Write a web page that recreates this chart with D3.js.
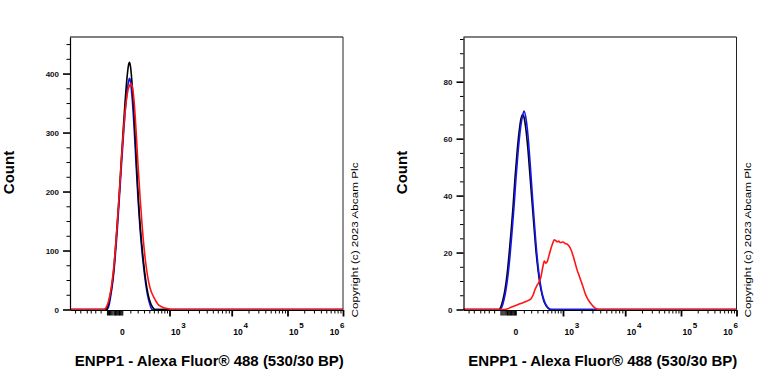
<!DOCTYPE html>
<html><head><meta charset="utf-8">
<script src="https://cdn.jsdelivr.net/npm/d3@7"></script>
<style>
body{margin:0;background:#fff}
svg{display:block}
text{font-family:"Liberation Sans",Arial,Helvetica,sans-serif}
</style>
</head><body>
<svg id="c" width="768" height="384"></svg>
<script>
// ---------------- data ----------------
const xTitle = "ENPP1 - Alexa Fluor\u00ae 488 (530/30 BP)";
const yTitle = "Count";
const copyright = "Copyright (c) 2023 Abcam Plc";
const xZeroLabel = "0";
const xMajorTicks = [1e3, 1e4, 1e5, 1e6];
const xMajorExps = ["3", "4", "5", "6"];
const xMinorTicks = [-1000, -800, -600, -500, -400, -300,
  100, 200, 300, 400, 500, 600, 700, 800, 900,
  2e3, 3e3, 4e3, 5e3, 6e3, 7e3, 8e3, 9e3,
  2e4, 3e4, 4e4, 5e4, 6e4, 7e4, 8e4, 9e4,
  2e5, 3e5, 4e5, 5e5, 6e5, 7e5, 8e5, 9e5];
const xZeroClusterTicks = [-200, -185, -170, -155, -140, -125, -110, -100,
  -90, -80, -70, -60, -50, -40, -30, -20, -10, 0];
const xDomain = [-1240, 1e6];

const leftYMajor = [0, 100, 200, 300, 400];
const leftYMinor = [25, 50, 75, 125, 150, 175, 225, 250, 275, 325, 350, 375, 425, 450];
const leftYMax = 462;
const rightYMajor = [0, 20, 40, 60, 80];
const rightYMinor = [5, 10, 15, 25, 30, 35, 45, 50, 55, 65, 70, 75, 85, 90, 95];
const rightYMax = 95.7;

// Left panel histograms (fluorescence value, count)
const leftBlackX = [-214, -184, -156, -129, -103, -90, -65, -40, -16, 9, 33, 58, 76, 89, 102, 121, 148, 176, 197, 220, 251, 284, 319, 355, 394, 436, 479, 526];
const leftBlackY = [0, 6, 22, 42, 72, 95, 140, 190, 245, 300, 350, 393, 414, 419, 412, 385, 330, 265, 215, 170, 125, 88, 58, 35, 19, 9, 3, 0];
const leftBlueX = [-200, -170, -145, -118, -92, -66, -41, -16, 9, 33, 58, 76, 89, 102, 121, 148, 176, 205, 235, 267, 301, 336, 375, 414, 457];
const leftBlueY = [0, 7, 24, 48, 82, 126, 178, 232, 285, 332, 368, 386, 392, 386, 362, 312, 248, 188, 138, 98, 66, 40, 20, 8, 0];
const leftRedX = [-244, -214, -184, -156, -129, -103, -78, -53, -28, -4, 21, 45, 70, 95, 108, 121, 148, 176, 205, 235, 267, 301, 336, 375, 414, 457, 503, 551, 604, 661, 756, 862, 1019, 1142];
const leftRedY = [0, 3, 11, 25, 46, 76, 115, 162, 215, 268, 315, 350, 372, 381, 383, 380, 355, 305, 245, 192, 145, 105, 75, 52, 37, 27, 20, 14, 9, 6, 3.5, 2, 0.5, 0];

// Right panel histograms
const rightBlackX = [-221, -192, -163, -136, -110, -84, -59, -34, -10, 15, 39, 64, 85, 102, 128, 155, 183, 212, 243, 275, 309, 344, 382, 421, 463, 507, 580];
const rightBlackY = [0, 1, 3.5, 7, 12, 19, 27, 36, 46, 55, 62, 67, 68.5, 67.5, 63, 56, 47, 38, 29, 20.5, 14, 9, 5.5, 3, 1.5, 0.6, 0];
const rightBlueX = [-206, -177, -149, -123, -97, -71, -47, -22, 2, 27, 51, 76, 102, 128, 155, 183, 212, 243, 275, 309, 344, 382, 421, 463, 507, 605];
const rightBlueY = [0, 1, 3.5, 7, 12, 19, 27, 36, 46, 55, 62, 67, 69.7, 67, 61, 52, 42, 32, 23, 15.5, 10, 6, 3.5, 1.8, 0.8, 0];
const rightRedX = [-136, -97, -59, -22, 15, 51, 89, 128, 169, 197, 227, 259, 292, 326, 363, 401, 431, 463, 496, 531, 580, 632, 688, 732, 780, 831, 884, 1000, 1079, 1165, 1256, 1354, 1460, 1573, 1695, 1826, 1967, 2118, 2280, 2454, 2644, 2847, 3066, 3300, 3553, 3966];
const rightRedY = [0, 0.3, 0.8, 1.2, 1.6, 2, 2.4, 2.8, 3.3, 3.8, 5, 7, 8.5, 9.5, 11.5, 15, 17, 16.3, 16.8, 18.5, 21, 23, 24.5, 24.2, 23.8, 24, 23.5, 23.7, 23.2, 23, 22.3, 21, 19, 16.5, 14, 12, 10, 8, 5.8, 4.2, 3, 2, 1.2, 0.6, 0.2, 0];

const seriesColors = {black: "#000000", blue: "#1515f0", red: "#ff1414"};

// ---------------- drawing ----------------
const svg = d3.select("#c");
const FONT = '"Liberation Sans",Arial,Helvetica,sans-serif';
const W = 273;            // panel width
const yTop = 37, yBot = 309.5;

// logicle-like transform (arcsinh), then piecewise-linear display scale
const T = v => Math.asinh(v / 300);
const xLin = d3.scaleLinear()
  .domain([T(xDomain[0]), T(0), T(1e3), T(1e4), T(1e5), T(1e6)])
  .range([0, 52.3, 99.5, 161.7, 217.5, 273]);

function zip(xs, ys) {
  const pts = xs.map((x, i) => [x, ys[i]]);
  return [[xDomain[0], 0], ...pts, [xDomain[1], 0]];
}

function panel(x0, yMax, yMajor, yMinor, series) {
  const g = svg.append("g").attr("transform", `translate(${x0},0)`);
  const y = d3.scaleLinear().domain([0, yMax]).range([yBot, yTop]);

  // frame: top and right
  g.append("line").attr("x1", 0).attr("x2", W).attr("y1", yTop).attr("y2", yTop)
    .attr("stroke", "#555").attr("stroke-width", 1.6);
  g.append("line").attr("x1", W).attr("x2", W).attr("y1", yTop).attr("y2", yBot + 0.5)
    .attr("stroke", "#222").attr("stroke-width", 1);

  // curves
  const line = d3.line().x(d => xLin(T(d[0]))).y(d => y(d[1])).curve(d3.curveMonotoneX);
  series.forEach(s => {
    g.append("path").attr("d", line(zip(s.x, s.y)))
      .attr("fill", "none").attr("stroke", s.color).attr("stroke-width", 1.6)
      .attr("stroke-linejoin", "round");
  });

  // y axis
  const yMajAx = d3.axisLeft(y).tickValues(yMajor).tickSize(7).tickSizeOuter(0).tickPadding(4)
    .tickFormat(d3.format("d"));
  const ya = g.append("g").call(yMajAx);
  ya.select(".domain").attr("stroke-width", 1.2);
  ya.selectAll(".tick line").attr("stroke-width", 1.6);
  ya.selectAll(".tick text").attr("font-family", FONT).attr("font-size", 8).attr("font-weight", "bold").attr("fill", "#111");
  const ym = g.append("g").call(d3.axisLeft(y).tickValues(yMinor).tickSize(3.5).tickSizeOuter(0).tickFormat(""));
  ym.select(".domain").remove();
  ym.selectAll(".tick line").attr("stroke-width", 1);

  // x axis
  const xg = g.append("g").attr("transform", `translate(0,${yBot + 0.5})`);
  const xa = xg.append("g").call(d3.axisBottom(xLin).tickValues(xMajorTicks.map(T)).tickSize(6.5).tickSizeOuter(0).tickFormat(""));
  xa.select(".domain").attr("stroke-width", 1.2);
  xa.selectAll(".tick line").attr("stroke-width", 1.8);
  const xm = xg.append("g").call(d3.axisBottom(xLin).tickValues(xMinorTicks.map(T)).tickSize(3.5).tickSizeOuter(0).tickFormat(""));
  xm.select(".domain").remove();
  xm.selectAll(".tick line").attr("stroke-width", 1);
  const xc = xg.append("g").call(d3.axisBottom(xLin).tickValues(xZeroClusterTicks.map(T)).tickSize(5.5).tickSizeOuter(0).tickFormat(""));
  xc.select(".domain").remove();
  xc.selectAll(".tick line").attr("stroke-width", 1);

  // x tick labels
  g.append("text").attr("x", xLin(T(0))).attr("y", 334.5).attr("text-anchor", "middle")
    .attr("font-size", 8.5).attr("font-weight", "bold").text(xZeroLabel);
  xMajorTicks.forEach((v, i) => {
    const px = xLin(T(v));
    const last = i === xMajorTicks.length - 1;
    const t = g.append("text").attr("y", 334.5).attr("font-size", 8.5).attr("font-weight", "bold")
      .attr("x", last ? px + 1.5 : px + 1.5).attr("text-anchor", last ? "end" : "start");
    t.append("tspan").text("10");
    t.append("tspan").attr("dy", -6.3).attr("dx", 0.8).attr("font-size", 8).text(xMajorExps[i]);
  });

  // titles
  g.append("text").attr("x", 139.3).attr("y", 366).attr("text-anchor", "middle")
    .attr("font-size", 15).attr("font-weight", "bold").text(xTitle);
  g.append("text").attr("transform", `translate(${-56.5},172.5) rotate(-90)`).attr("text-anchor", "middle")
    .attr("font-size", 15).attr("font-weight", "bold").text(yTitle);
  g.append("text").attr("transform", `translate(${W + 14.5},240) rotate(-90)`).attr("text-anchor", "middle")
    .attr("font-size", 9.5).attr("textLength", 155).attr("lengthAdjust", "spacingAndGlyphs").text(copyright);
}

// left panel: blue drawn beneath black, red on top
panel(70, leftYMax, leftYMajor, leftYMinor, [
  {x: leftBlueX, y: leftBlueY, color: seriesColors.blue},
  {x: leftBlackX, y: leftBlackY, color: seriesColors.black},
  {x: leftRedX, y: leftRedY, color: seriesColors.red}
]);
// right panel: blue over black, red on top
panel(463.5, rightYMax, rightYMajor, rightYMinor, [
  {x: rightBlackX, y: rightBlackY, color: seriesColors.black},
  {x: rightBlueX, y: rightBlueY, color: seriesColors.blue},
  {x: rightRedX, y: rightRedY, color: seriesColors.red}
]);
</script>
</body></html>
